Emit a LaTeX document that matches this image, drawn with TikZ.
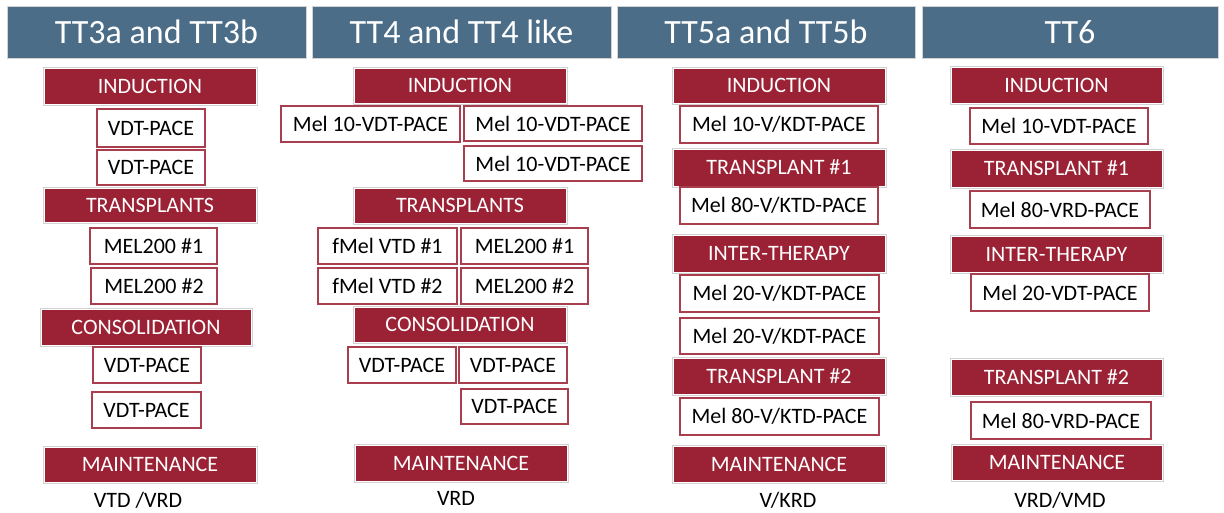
\documentclass[tikz,border=0pt]{standalone}
\usepackage{fontspec}
\setmainfont{Carlito}
\definecolor{hdr}{RGB}{75,109,136}
\definecolor{rd}{RGB}{155,34,53}
\definecolor{wb}{RGB}{168,62,78}
\tikzset{
 hdrbox/.style={fill=hdr, draw=gray!35, line width=0.8pt, text=white, font=\fontsize{34}{38}\selectfont, inner sep=0pt},
 redbox/.style={preaction={draw=gray!35, line width=3pt}, fill=rd, draw=white, line width=1pt, text=white, font=\fontsize{22}{26}\selectfont, inner sep=0pt},
 whitebox/.style={fill=white, draw=wb, line width=1.2pt, text=black, font=\fontsize{22}{26}\selectfont, inner sep=0pt},
 plain/.style={text=black, font=\fontsize{22}{26}\selectfont, inner sep=0pt}
}
\newcommand\bx[7]{\node[#2, minimum width={(#5-#3)*1pt}, minimum height={(#6-#4)*1pt}] (#1) at ({(#3+#5)/2},{(#4+#6)/2}) {#7};}
\begin{document}
\begin{tikzpicture}[x=1pt,y=-1pt]
\useasboundingbox[fill=white] (0,0) rectangle (1224,512);
% column 1
\bx{h1}{hdrbox}{7}{6}{306}{58}{TT3a and TT3b}
\bx{a1}{redbox}{44}{68}{256}{104}{INDUCTION}
\bx{a2}{whitebox}{97}{109}{205}{147}{VDT-PACE}
\bx{a3}{whitebox}{97}{150}{205}{185}{VDT-PACE}
\bx{a4}{redbox}{44}{188}{256}{222}{TRANSPLANTS}
\bx{a5}{whitebox}{90}{228}{217}{264}{MEL200 \#1}
\bx{a6}{whitebox}{91}{268}{217}{304}{MEL200 \#2}
\bx{a7}{redbox}{41}{309}{251}{345}{CONSOLIDATION}
\bx{a8}{whitebox}{93}{347}{201}{383}{VDT-PACE}
\bx{a9}{whitebox}{92}{392}{201}{428}{VDT-PACE}
\bx{a10}{redbox}{44}{447}{256}{482}{MAINTENANCE}
\node[plain] (a11) at (138,500) {VTD /VRD};
% column 2
\bx{h2}{hdrbox}{312}{6}{611}{58}{TT4 and TT4 like}
\bx{b1}{redbox}{354}{68}{566}{103}{INDUCTION}
\bx{b2}{whitebox}{281}{106}{460}{142}{Mel 10-VDT-PACE}
\bx{b3}{whitebox}{464}{106}{642}{141}{Mel 10-VDT-PACE}
\bx{b4}{whitebox}{464}{146}{642}{181}{Mel 10-VDT-PACE}
\bx{b5}{redbox}{354}{188}{566}{223}{TRANSPLANTS}
\bx{b6}{whitebox}{318}{228}{457}{264}{fMel VTD \#1}
\bx{b7}{whitebox}{461}{228}{588}{264}{MEL200 \#1}
\bx{b8}{whitebox}{318}{268}{457}{304}{fMel VTD \#2}
\bx{b9}{whitebox}{461}{268}{588}{304}{MEL200 \#2}
\bx{b10}{redbox}{354}{307}{566}{342}{CONSOLIDATION}
\bx{b11}{whitebox}{348}{347}{456}{383}{VDT-PACE}
\bx{b12}{whitebox}{459}{347}{567}{383}{VDT-PACE}
\bx{b13}{whitebox}{461}{389}{568}{424}{VDT-PACE}
\bx{b14}{redbox}{355}{445}{567}{481}{MAINTENANCE}
\node[plain] (b15) at (456,498) {VRD};
% column 3
\bx{h3}{hdrbox}{617}{6}{915}{58}{TT5a and TT5b}
\bx{c1}{redbox}{673}{68}{885}{103}{INDUCTION}
\bx{c2}{whitebox}{680}{106}{878}{143}{Mel 10-V/KDT-PACE}
\bx{c3}{redbox}{673}{149}{885}{186}{TRANSPLANT \#1}
\bx{c4}{whitebox}{680}{187}{878}{224}{Mel 80-V/KTD-PACE}
\bx{c5}{redbox}{673}{235}{885}{272}{INTER-THERAPY}
\bx{c6}{whitebox}{680}{275}{879}{312}{Mel 20-V/KDT-PACE}
\bx{c7}{whitebox}{680}{318}{879}{354}{Mel 20-V/KDT-PACE}
\bx{c8}{redbox}{673}{358}{885}{394}{TRANSPLANT \#2}
\bx{c9}{whitebox}{680}{398}{879}{435}{Mel 80-V/KTD-PACE}
\bx{c10}{redbox}{673}{446}{885}{482}{MAINTENANCE}
\node[plain] (c11) at (788,500) {V/KRD};
% column 4
\bx{h4}{hdrbox}{922}{6}{1218}{58}{TT6}
\bx{d1}{redbox}{951}{67}{1162}{103}{INDUCTION}
\bx{d2}{whitebox}{970}{108}{1148}{144}{Mel 10-VDT-PACE}
\bx{d3}{redbox}{951}{150}{1162}{187}{TRANSPLANT \#1}
\bx{d4}{whitebox}{970}{191}{1150}{228}{Mel 80-VRD-PACE}
\bx{d5}{redbox}{951}{236}{1162}{272}{INTER-THERAPY}
\bx{d6}{whitebox}{971}{274}{1149}{311}{Mel 20-VDT-PACE}
\bx{d7}{redbox}{951}{359}{1162}{395}{TRANSPLANT \#2}
\bx{d8}{whitebox}{971}{402}{1151}{439}{Mel 80-VRD-PACE}
\bx{d9}{redbox}{952}{445}{1162}{480}{MAINTENANCE}
\node[plain] (d10) at (1060,500) {VRD/VMD};
\end{tikzpicture}
\end{document}
